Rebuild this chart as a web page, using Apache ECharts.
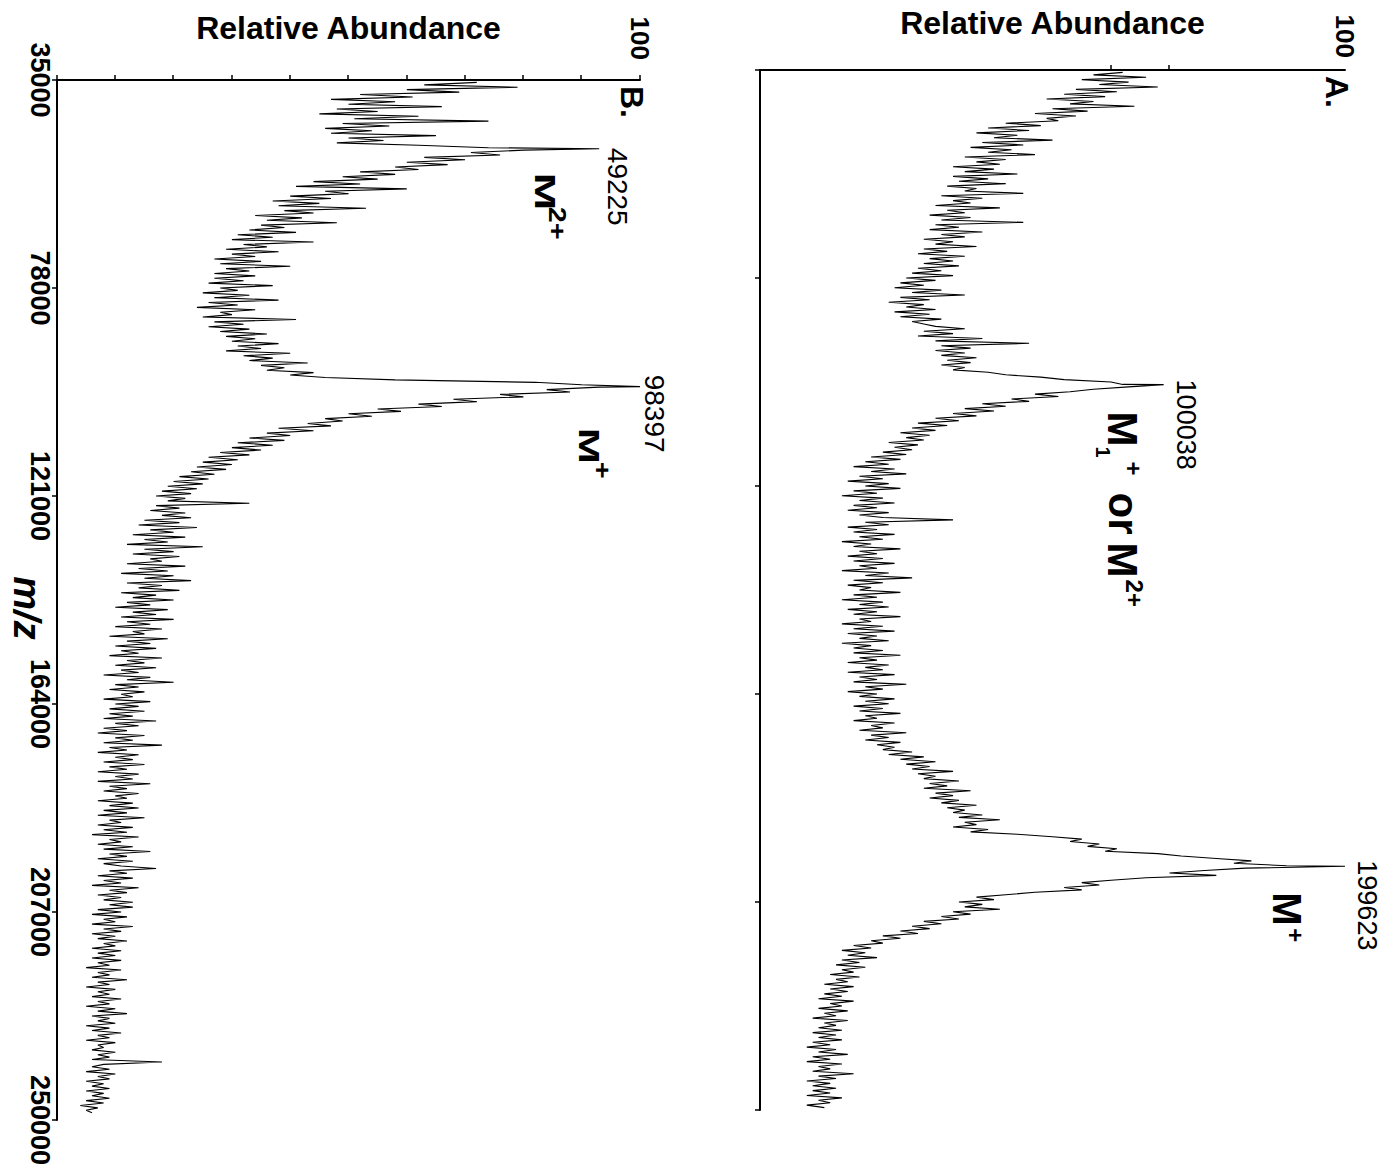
<!DOCTYPE html>
<html>
<head>
<meta charset="utf-8">
<script src="https://cdn.jsdelivr.net/npm/echarts@6/dist/echarts.min.js"></script>
<style>
  html, body { margin: 0; padding: 0; background: #fff; width: 1390px; height: 1167px; overflow: hidden; }
  /* The figure is laid out as a normal spectrum and turned a quarter turn clockwise */
  #chart { position: absolute; left: 0; top: 0; width: 1167px; height: 1390px;
           transform-origin: 0 0; transform: translate(1390px, 0) rotate(90deg); }
</style>
</head>
<body>
<div id="chart"></div>
<script>
// m/z sampling of both traces
const MZ_START = 35500;
const MZ_STEP = 500;

// m/z axis ticks
const mzTicks = [35000, 78000, 121000, 164000, 207000, 250000];

// Panel A: relative abundance (%) every 500 m/z from 35500
const abundanceA = [
  62, 57, 66, 55, 63, 58, 68, 54, 61, 52, 59, 49, 57, 53, 64, 50, 56, 47, 54, 49,
  51, 42, 48, 39, 46, 37, 44, 40, 50, 38, 45, 36, 43, 39, 47, 35, 42, 37, 41, 33,
  40, 35, 44, 33, 39, 34, 42, 32, 37, 35, 45, 31, 38, 33, 36, 30, 41, 32, 35, 29,
  36, 31, 45, 30, 34, 29, 38, 31, 35, 28, 33, 30, 37, 28, 32, 27, 35, 29, 33, 28,
  34, 27, 31, 26, 33, 25, 30, 24, 28, 23, 31, 26, 35, 24, 29, 22, 28, 25, 30, 23,
  29, 24, 31, 26, 28, 30, 35, 28, 33, 27, 38, 30, 46, 31, 36, 30, 35, 31, 37, 32,
  36, 31, 35, 33, 39, 42, 48, 52, 60, 62, 63, 57, 53, 47, 51, 43, 46, 38, 42, 35,
  40, 33, 37, 30, 34, 27, 32, 26, 30, 24, 29, 25, 28, 22, 27, 23, 26, 21, 25, 19,
  24, 18, 22, 16, 23, 19, 25, 17, 21, 15, 22, 18, 24, 16, 20, 14, 21, 17, 23, 16,
  20, 15, 22, 17, 21, 33, 18, 22, 15, 20, 16, 23, 17, 21, 14, 19, 16, 24, 17, 20,
  15, 21, 16, 23, 17, 20, 14, 22, 18, 26, 16, 21, 15, 19, 17, 24, 16, 20, 14, 21,
  17, 22, 15, 20, 16, 24, 17, 19, 14, 21, 16, 23, 15, 20, 17, 22, 14, 19, 16, 21,
  16, 24, 17, 20, 15, 22, 18, 21, 15, 23, 17, 20, 16, 25, 18, 21, 15, 20, 17, 23,
  18, 22, 16, 21, 17, 24, 18, 20, 16, 23, 19, 21, 17, 25, 19, 22, 18, 24, 20, 23,
  21, 26, 22, 28, 24, 30, 25, 29, 26, 33, 27, 30, 28, 34, 29, 32, 28, 36, 30, 33,
  29, 34, 31, 37, 32, 35, 33, 38, 34, 41, 35, 37, 33, 39, 36, 44, 50, 55, 53, 58,
  56, 61, 59, 68, 72, 78, 84, 81, 90, 83, 76, 70, 78, 66, 60, 55, 58, 52, 55, 47,
  42, 37, 40, 34, 38, 35, 41, 33, 36, 31, 34, 28, 31, 26, 29, 24, 27, 21, 24, 19,
  21, 16, 19, 14, 18, 15, 20, 14, 17, 13, 18, 14, 16, 12, 17, 13, 15, 11, 16, 12,
  15, 11, 14, 10, 16, 12, 14, 10, 15, 11, 13, 9, 15, 11, 13, 10, 14, 9, 13, 10,
  14, 9, 12, 8, 13, 10, 15, 9, 12, 8, 14, 10, 12, 9, 16, 10, 13, 8, 12, 9,
  13, 9, 12, 8, 14, 10, 12, 8, 11
];

// Panel B: relative abundance (%) every 500 m/z from 35500
const abundanceB = [
  72, 63, 79, 60, 69, 52, 61, 47, 58, 50, 66, 48, 55, 45, 62, 51, 74, 49, 57, 46,
  54, 47, 65, 50, 56, 48, 62, 74, 80, 71, 76, 63, 70, 60, 67, 58, 62, 52, 58, 49,
  55, 44, 52, 41, 60, 46, 50, 40, 47, 37, 45, 38, 53, 39, 44, 34, 42, 36, 48, 35,
  39, 33, 41, 31, 37, 30, 44, 32, 36, 29, 38, 30, 34, 27, 35, 28, 40, 29, 33, 27,
  34, 27, 32, 26, 37, 28, 31, 25, 33, 27, 38, 26, 31, 24, 34, 28, 30, 25, 41, 27,
  32, 26, 33, 28, 36, 29, 34, 30, 38, 31, 35, 29, 40, 32, 37, 33, 43, 35, 39, 36,
  44, 40, 46, 58, 82, 90, 93, 84, 88, 76, 80, 68, 72, 62, 66, 55, 59, 50, 54, 46,
  49, 43, 47, 38, 44, 36, 40, 33, 39, 31, 37, 30, 35, 28, 33, 26, 31, 25, 30, 24,
  29, 23, 27, 21, 26, 20, 25, 19, 24, 18, 23, 17, 22, 19, 33, 17, 21, 16, 22, 18,
  23, 15, 21, 14, 24, 16, 20, 13, 22, 15, 19, 12, 25, 15, 20, 13, 21, 16, 18, 12,
  22, 14, 19, 11, 20, 15, 23, 12, 18, 14, 21, 11, 17, 13, 20, 12, 16, 10, 19, 13,
  17, 11, 20, 12, 16, 10, 18, 13, 15, 9, 19, 12, 16, 10, 17, 11, 14, 9, 18, 12,
  15, 10, 17, 11, 14, 8, 16, 12, 20, 10, 14, 9, 15, 11, 13, 8, 16, 10, 14, 9,
  15, 9, 13, 8, 17, 10, 14, 8, 12, 7, 15, 10, 13, 8, 18, 9, 12, 7, 14, 10,
  13, 8, 15, 9, 12, 7, 14, 10, 13, 7, 16, 9, 12, 8, 14, 10, 12, 7, 13, 9,
  14, 8, 12, 7, 15, 9, 11, 7, 13, 8, 12, 6, 14, 9, 11, 7, 13, 8, 16, 9,
  12, 7, 13, 8, 11, 17, 9, 12, 7, 13, 8, 11, 6, 14, 9, 12, 7, 11, 8, 13,
  9, 13, 7, 11, 6, 12, 8, 10, 6, 13, 8, 11, 6, 10, 7, 12, 8, 10, 6, 11,
  7, 10, 6, 11, 7, 9, 5, 11, 7, 9, 6, 12, 7, 9, 5, 10, 7, 9, 6, 11,
  7, 9, 5, 10, 7, 12, 6, 9, 7, 10, 5, 9, 6, 11, 7, 9, 5, 10, 7, 8,
  6, 10, 7, 9, 6, 18, 8, 6, 9, 5, 10, 7, 9, 5, 8, 6, 9, 5, 8, 6,
  9, 5, 8, 4, 7, 5, 6
];

// Labelled peak maxima: [m/z, relative abundance]
const peaksA = [[100038, 69], [199623, 100]];
const peaksB = [[49225, 93], [98397, 100]];

const FONT = '"Liberation Sans", Arial, Helvetica, sans-serif';
const INK = '#000';

function buildTrace(values, peaks) {
  const pts = values.map((v, i) => [MZ_START + i * MZ_STEP, v]);
  peaks.forEach(p => pts.push(p.slice()));
  pts.sort((a, b) => a[0] - b[0]);
  return pts;
}

const chart = echarts.init(document.getElementById('chart'), null, { renderer: 'svg', width: 1167, height: 1390 });

const axisLine = { show: true, onZero: false, lineStyle: { color: INK, width: 2 } };
const tickStyle = { color: INK, width: 1.5 };
const mzMin = mzTicks[0], mzMax = mzTicks[mzTicks.length - 1], mzInterval = mzTicks[1] - mzTicks[0];

function mzAxis(gridIndex, withLabels) {
  return {
    gridIndex, type: 'value', min: mzMin, max: mzMax, interval: mzInterval,
    axisLine, splitLine: { show: false },
    axisTick: { show: true, length: 5, lineStyle: tickStyle },
    axisLabel: { show: withLabels, margin: 4, formatter: v => String(v), showMinLabel: true, showMaxLabel: true,
      hideOverlap: false, fontFamily: FONT, fontSize: 27, fontWeight: 'bold', color: INK }
  };
}

function abundanceAxis(gridIndex, labelMargin, tickValues) {
  const tick = { show: true, length: 5, lineStyle: tickStyle };
  if (tickValues) tick.customValues = tickValues;
  return {
    gridIndex, type: 'value', min: 0, max: 100, interval: 10,
    axisLine, splitLine: { show: false }, axisTick: tick,
    axisLabel: { show: true, margin: labelMargin, showMaxLabel: true,
      formatter: v => (v === 100 ? '100' : ''),
      fontFamily: FONT, fontSize: 26, fontWeight: 'bold', color: INK }
  };
}

const traceStyle = { color: '#000', width: 1.1 };

chart.setOption({
  animation: false,
  backgroundColor: '#fff',
  grid: [
    { left: 70, top: 45, width: 1040, height: 585, containLabel: false, outerBoundsMode: 'none' },
    { left: 80, top: 750, width: 1040, height: 583, containLabel: false, outerBoundsMode: 'none' }
  ],
  xAxis: [mzAxis(0, false), mzAxis(1, true)],
  yAxis: [abundanceAxis(0, 12, [60, 70]), abundanceAxis(1, 20, null)],
  series: [
    { name: 'A', type: 'line', xAxisIndex: 0, yAxisIndex: 0, data: buildTrace(abundanceA, peaksA),
      showSymbol: false, lineStyle: traceStyle, itemStyle: { color: '#000' } },
    { name: 'B', type: 'line', xAxisIndex: 1, yAxisIndex: 1, data: buildTrace(abundanceB, peaksB),
      showSymbol: false, lineStyle: traceStyle, itemStyle: { color: '#000' } }
  ]
});

// Annotation pieces placed relative to each labelled peak (dx, dy in px; sx = horizontal stretch)
const annotations = [
  { grid: 1, peak: peaksB[0], parts: [
    { text: String(peaksB[0][0]), dx: -1, dy: -18, size: 28 },
    { text: 'M', dx: 24, dy: 54, size: 30, bold: true, sx: 1.5 },
    { text: '2+', dx: 58, dy: 42, size: 24, bold: true, sx: 1.2 }
  ]},
  { grid: 1, peak: peaksB[1], parts: [
    { text: String(peaksB[1][0]), dx: -12, dy: -14, size: 28 },
    { text: 'M', dx: 41, dy: 51, size: 29, bold: true, sx: 1.5 },
    { text: '+', dx: 75, dy: 38, size: 24, bold: true, sx: 1.2 }
  ]},
  { grid: 0, peak: peaksA[0], parts: [
    { text: String(peaksA[0][0]), dx: -5, dy: -22, size: 27 },
    { text: 'M', dx: 27, dy: 41, size: 42, bold: true },
    { text: '1', dx: 62, dy: 61, size: 20, bold: true },
    { text: '+', dx: 77, dy: 30, size: 24, bold: true },
    { text: 'or', dx: 108, dy: 40, size: 42, bold: true },
    { text: 'M', dx: 158, dy: 41, size: 42, bold: true },
    { text: '2+', dx: 195, dy: 29, size: 24, bold: true }
  ]},
  { grid: 0, peak: peaksA[1], parts: [
    { text: String(peaksA[1][0]), dx: -6, dy: -22, size: 27 },
    { text: 'M', dx: 26, dy: 58, size: 40, bold: true },
    { text: '+', dx: 62, dy: 50, size: 24, bold: true }
  ]}
];

function textEl(x, y, text, size, opts) {
  opts = opts || {};
  const el = {
    type: 'text', x, y, silent: true,
    style: { text, fill: INK, fontFamily: FONT, fontSize: size,
             fontWeight: opts.bold ? 'bold' : 'normal', fontStyle: opts.italic ? 'italic' : 'normal',
             align: opts.align || 'left', verticalAlign: 'middle',
             textAlign: opts.align || 'left', textVerticalAlign: 'middle' }
  };
  if (opts.sx) el.scaleX = opts.sx;
  if (opts.rotation) el.rotation = opts.rotation;
  return el;
}

const graphic = [];
annotations.forEach(a => {
  const [px, py] = chart.convertToPixel({ gridIndex: a.grid }, a.peak);
  a.parts.forEach(p => graphic.push(textEl(px + p.dx, py + p.dy, p.text, p.size, { bold: p.bold, sx: p.sx })));
});

// Panel letters at the top-left corner of each plot
const panelLetters = [{ grid: 0, text: 'A.' }, { grid: 1, text: 'B.' }];
panelLetters.forEach(l => {
  const [gx, gy] = chart.convertToPixel({ gridIndex: l.grid }, [mzMin, 100]);
  graphic.push(textEl(gx + 6, gy + 8, l.text, 32, { bold: true }));
});

// Axis titles: abundance titles beside each plot, m/z title under the lower plot
[{ grid: 0, off: 47 }, { grid: 1, off: 52 }].forEach(t => {
  const [x0, yTop] = chart.convertToPixel({ gridIndex: t.grid }, [mzMin, 100]);
  const [, yBot] = chart.convertToPixel({ gridIndex: t.grid }, [mzMin, 0]);
  graphic.push(textEl(x0 - t.off, (yTop + yBot) / 2, 'Relative Abundance', 32,
    { bold: true, align: 'center', rotation: Math.PI / 2 }));
});
{
  const [xa] = chart.convertToPixel({ gridIndex: 1 }, [mzTicks[2], 0]);
  const [xb, yb] = chart.convertToPixel({ gridIndex: 1 }, [mzTicks[3], 0]);
  graphic.push(textEl((xa + xb) / 2 + 8, yb + 30, 'm/z', 38, { bold: true, italic: true, align: 'center' }));
}

chart.setOption({ graphic });
</script>
</body>
</html>
